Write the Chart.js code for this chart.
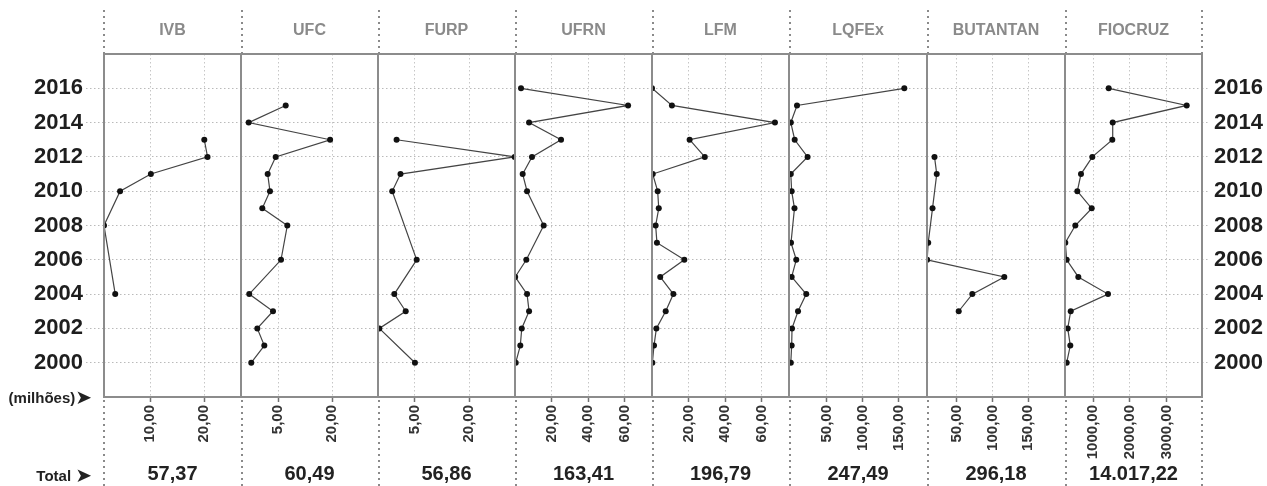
<!DOCTYPE html>
<html>
<head>
<meta charset="utf-8">
<script src="https://cdn.jsdelivr.net/npm/chart.js@4.4.1/dist/chart.umd.min.js"></script>
<style>
  body { margin: 0; background: #fff; }
  #quadro { position: relative; width: 1267px; height: 486px; font-family: "Liberation Sans", Arial, sans-serif; }
  #quadro canvas { position: absolute; top: 0; }
  .rotulo { position: absolute; right: 1175px; height: 22px; line-height: 22px; font-weight: bold; font-size: 15px; color: #222; white-space: nowrap; }
  .seta { font-family: "DejaVu Sans"; font-size: 20px; vertical-align: -1px; }
</style>
</head>
<body>
<div id="quadro">
  <div class="rotulo" style="top:386px">(milhões)<span class="seta">➤</span></div>
  <div class="rotulo" style="top:464px">Total <span class="seta">➤</span></div>
</div>
<script>
const anos = [2000, 2001, 2002, 2003, 2004, 2005, 2006, 2007, 2008, 2009, 2010, 2011, 2012, 2013, 2014, 2015, 2016];
const ticksAnos = [2000, 2002, 2004, 2006, 2008, 2010, 2012, 2014, 2016];
const instituicoes = ['IVB', 'UFC', 'FURP', 'UFRN', 'LFM', 'LQFEx', 'BUTANTAN', 'FIOCRUZ'];
const totais = ['57,37', '60,49', '56,86', '163,41', '196,79', '247,49', '296,18', '14.017,22'];

// valores em milhoes, um por ano (2000 a 2016), null = sem dado
const ivb = [null, null, null, null, 3.5, null, null, null, 1.42, null, 4.4, 10.1, 20.6, 20.0, null, null, null];
const ufc = [1.25, 2.75, 1.87, 4.07, 1.07, null, 5.52, null, 6.81, 2.48, 3.58, 3.23, 4.53, 19.2, 1.02, 6.47, null];
const furp = [5.0, null, 0.59, 3.44, 1.92, null, 5.32, null, null, null, 1.69, 2.69, 40.2, 2.19, null, null, null];
const ufrn = [0.4, 2.9, 3.7, 7.7, 6.6, 0.1, 6.2, null, 15.7, null, 6.6, 4.2, 9.3, 25.2, 7.7, 61.9, 3.3];
const lfm = [0.2, 1.1, 2.4, 7.5, 11.7, 4.5, 17.7, 2.7, 2.0, 3.7, 3.1, 0.4, 28.9, 20.6, 67.3, 10.9, 0.0];
const lqfex = [0.0, 1.2, 1.7, 10.0, 21.4, 1.2, 7.6, 0.3, null, 5.1, 1.2, 0.0, 23.3, 5.4, 0.0, 8.6, 157.5];
const butantan = [null, null, null, 52.8, 71.8, 116.5, 8.7, 10.2, null, 16.2, null, 22.1, 19.0, null, null, null, null];
const fiocruz = [275, 374, 303, 385, 1402, 592, 275, 237, 510, 957, 565, 665, 974, 1519, 1530, 3548, 1421];

// marcas do eixo horizontal de cada painel
const ticksIvb = [10, 20];
const ticksUfc = [5, 20];
const ticksFurp = [5, 20];
const ticksUfrn = [20, 40, 60];
const ticksLfm = [20, 40, 60];
const ticksLqfex = [50, 100, 150];
const ticksButantan = [50, 100, 150];
const ticksFiocruz = [1000, 2000, 3000];

// faixa de cada eixo horizontal
const limites = [[1.42, 26.8], [0.48, 40.5], [0.51, 40.4], [0, 75], [0, 75], [-2.5, 189], [8.5, 201.3], [229, 3965]];
// UFC e FURP usam eixo em raiz quadrada
const tiposEixo = ['linear', 'raiz', 'raiz', 'linear', 'linear', 'linear', 'linear', 'linear'];

const series = [ivb, ufc, furp, ufrn, lfm, lqfex, butantan, fiocruz];
const marcas = [ticksIvb, ticksUfc, ticksFurp, ticksUfrn, ticksLfm, ticksLqfex, ticksButantan, ticksFiocruz];

class EscalaRaiz extends Chart.LinearScale {
  getPixelForValue(valor) {
    if (valor === null || valor === undefined) return NaN;
    const a = Math.sqrt(this.min), b = Math.sqrt(this.max);
    return this.getPixelForDecimal((Math.sqrt(Math.max(valor, 0)) - a) / (b - a));
  }
  getValueForPixel(px) {
    const a = Math.sqrt(this.min), b = Math.sqrt(this.max);
    const r = a + this.getDecimalForPixel(px) * (b - a);
    return r * r;
  }
}
EscalaRaiz.id = 'raiz';
Chart.register(EscalaRaiz);

Chart.defaults.font.family = '"Liberation Sans", Arial, sans-serif';

const bordas = [0, 241, 378, 515, 652, 789, 927, 1065, 1267];
const pontilhado = [1.5, 2.5];

function moldura(ultimo) {
  return {
    id: 'moldura',
    afterDraw(chart) {
      const ctx = chart.ctx;
      const a = chart.chartArea;
      ctx.save();
      ctx.strokeStyle = '#8a8a8a';
      ctx.lineWidth = 2;
      ctx.setLineDash([2, 4]);
      const xs = [Math.max(a.left, 1)];
      if (ultimo) xs.push(a.right);
      xs.forEach(x => {
        ctx.beginPath();
        ctx.moveTo(x, 10); ctx.lineTo(x, a.top);
        ctx.moveTo(x, a.bottom + 3); ctx.lineTo(x, chart.height);
        ctx.stroke();
      });
      ctx.setLineDash([]);
      ctx.strokeStyle = '#8c8c8c';
      ctx.strokeRect(a.left, a.top, a.right - a.left, a.bottom - a.top);
      ctx.restore();
    }
  };
}

function painel(i) {
  const canvas = document.createElement('canvas');
  canvas.width = bordas[i + 1] - bordas[i];
  canvas.height = 486;
  canvas.style.left = bordas[i] + 'px';
  document.getElementById('quadro').prepend(canvas);

  const primeiro = i === 0;
  const ultimo = i === instituicoes.length - 1;
  const pontos = anos.map((ano, k) => ({ x: series[i][k], y: ano })).filter(p => p.x !== null);

  new Chart(canvas, {
    type: 'scatter',
    data: {
      datasets: [{
        data: pontos,
        showLine: true,
        borderColor: '#444',
        borderWidth: 1.2,
        pointRadius: 3,
        pointBackgroundColor: '#111',
        pointBorderColor: '#111',
        pointBorderWidth: 0
      }]
    },
    options: {
      responsive: false,
      animation: false,
      layout: { padding: 0, autoPadding: false },
      plugins: { legend: { display: false }, tooltip: { enabled: false } },
      scales: {
        x: {
          type: tiposEixo[i],
          position: 'bottom',
          bounds: 'data',
          min: limites[i][0],
          max: limites[i][1],
          afterBuildTicks: s => { s.ticks = marcas[i].map(v => ({ value: v })); },
          afterFit: s => { s.height = 89; },
          grid: { color: '#c6c6c6', lineWidth: 1, tickLength: 5, tickColor: '#707070', tickWidth: 1.5, tickBorderDash: [] },
          border: { display: false, dash: pontilhado },
          ticks: {
            autoSkip: false, minRotation: 90, maxRotation: 90, padding: 3,
            color: '#333', font: { size: 15, weight: 'bold' },
            callback: v => v.toFixed(2).replace('.', ',')
          },
          title: { display: true, text: totais[i], color: '#222', font: { size: 20, weight: 'bold' }, padding: { top: 0, bottom: 0 } }
        },
        topo: {
          type: 'linear',
          position: 'top',
          afterFit: s => { s.height = 54; },
          grid: { display: false },
          border: { display: false },
          ticks: { display: false },
          title: { display: true, text: instituicoes[i], color: '#8a8a8a', font: { size: 16, weight: 'bold' }, padding: { top: 21, bottom: 0 } }
        },
        y: {
          type: 'linear',
          position: ultimo ? 'right' : 'left',
          bounds: 'data',
          min: 1998,
          max: 2018,
          afterBuildTicks: s => { s.ticks = ticksAnos.map(v => ({ value: v })); },
          afterFit: s => { s.width = primeiro ? 104 : (ultimo ? 65 : 0); },
          grid: {
            color: '#bababa', lineWidth: 1,
            drawTicks: primeiro || ultimo, tickLength: primeiro ? 18 : 6,
            tickColor: '#bababa', tickBorderDash: pontilhado
          },
          border: { display: false, dash: pontilhado },
          ticks: {
            display: primeiro || ultimo, padding: primeiro ? 3 : 6,
            color: '#1e1e1e', font: { size: 22, weight: 'bold' },
            callback: v => String(v)
          }
        }
      }
    },
    plugins: [moldura(ultimo)]
  });
}

instituicoes.forEach((nome, i) => painel(i));
</script>
</body>
</html>
